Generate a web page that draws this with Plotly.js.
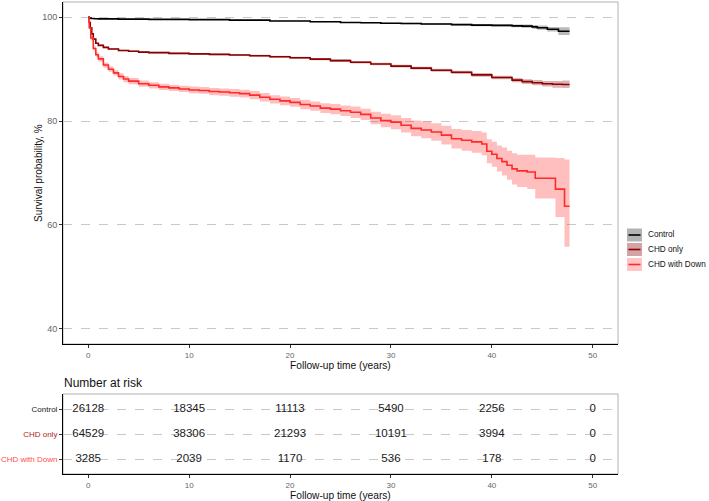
<!DOCTYPE html>
<html>
<head>
<meta charset="utf-8">
<script src="https://cdn.plot.ly/plotly-3.0.1.min.js"></script>
<style>html,body{margin:0;padding:0;background:#fff;}#chart{width:709px;height:501px;}</style>
</head>
<body>
<div id="chart"></div>
<script>
// ---- Data ----
const groups = ["Control", "CHD only", "CHD with Down"];

const tControl = [0, 0.1, 0.3, 0.6, 1, 3, 6, 10, 14, 18, 22, 25, 27, 29, 31, 33, 36, 38, 40, 42, 43, 44, 44.5, 45.5, 46.6, 47.7];
const sControl = [100, 99.85, 99.78, 99.72, 99.7, 99.65, 99.6, 99.55, 99.45, 99.3, 99.15, 99.0, 98.95, 98.85, 98.8, 98.7, 98.6, 98.5, 98.45, 98.35, 98.3, 98.15, 98.0, 97.7, 97.3, 97.3];
const loControl = [100, 99.8, 99.73, 99.67, 99.65, 99.6, 99.55, 99.5, 99.39, 99.23, 99.07, 98.9, 98.84, 98.73, 98.66, 98.55, 98.43, 98.3, 98.23, 98.1, 98.0, 97.8, 97.6, 97.25, 96.6, 96.6];
const hiControl = [100, 99.9, 99.83, 99.77, 99.75, 99.7, 99.65, 99.6, 99.51, 99.37, 99.23, 99.1, 99.06, 98.97, 98.94, 98.85, 98.77, 98.7, 98.67, 98.6, 98.6, 98.5, 98.4, 98.15, 98.1, 98.1];

const tCHD = [0, 0.1, 0.2, 0.35, 0.5, 0.75, 1, 1.5, 2, 3, 4, 5, 6, 8, 10, 12, 14, 16, 18, 20, 22, 24, 26, 28, 30, 32, 34, 36, 38, 40, 42, 43, 44, 45, 46, 47, 47.7];
const sCHD = [100, 99, 98, 96.8, 95.8, 95.0, 94.6, 94.2, 93.9, 93.6, 93.45, 93.3, 93.2, 93.05, 92.95, 92.85, 92.75, 92.6, 92.4, 92.2, 91.95, 91.65, 91.35, 91.0, 90.6, 90.2, 89.8, 89.4, 88.9, 88.4, 87.9, 87.6, 87.4, 87.2, 87.1, 87.05, 87.05];
const loCHD = [100, 98.9, 97.85, 96.65, 95.65, 94.85, 94.45, 94.05, 93.75, 93.45, 93.3, 93.15, 93.05, 92.9, 92.8, 92.68, 92.58, 92.42, 92.2, 91.98, 91.72, 91.4, 91.1, 90.75, 90.35, 89.93, 89.5, 89.08, 88.55, 88.05, 87.5, 87.15, 86.9, 86.65, 86.45, 86.38, 86.38];
const hiCHD = [100, 99.1, 98.15, 96.95, 95.95, 95.15, 94.75, 94.35, 94.05, 93.75, 93.6, 93.45, 93.35, 93.2, 93.1, 93.02, 92.92, 92.78, 92.6, 92.42, 92.18, 91.9, 91.6, 91.25, 90.85, 90.47, 90.1, 89.72, 89.25, 88.75, 88.3, 88.05, 87.9, 87.75, 87.75, 87.8, 87.8];

const tDown = [0, 0.1, 0.25, 0.5, 0.75, 1, 1.5, 2, 2.5, 3, 3.5, 4, 5, 6, 7, 8, 9, 10, 11, 12, 13, 14, 15, 16, 17, 18, 19, 20, 21, 22, 23, 24, 25, 26, 27, 28, 29, 30, 31, 32, 33, 34, 35, 36, 37, 38, 39, 39.5, 40, 40.5, 41, 41.5, 42, 42.5, 43.5, 44.3, 46.3, 47.2, 47.7];
const sDown = [100, 98, 96, 94, 92.8, 92, 90.8, 90, 89.3, 88.6, 88.1, 87.7, 87.2, 86.9, 86.6, 86.4, 86.2, 86.0, 85.9, 85.7, 85.6, 85.45, 85.3, 85.0, 84.6, 84.2, 83.9, 83.6, 83.2, 82.9, 82.5, 82.3, 82.0, 81.7, 81.3, 80.6, 80.1, 79.8, 79.2, 78.6, 78.3, 77.9, 77.3, 76.6, 76.3, 76.0, 75.6, 74.2, 73.6, 72.8, 72.2, 71.5, 70.8, 70.4, 70.2, 69.0, 66.9, 63.6, 63.6];
const loDown = [100, 97.7, 95.6, 93.6, 92.3, 91.5, 90.3, 89.5, 88.8, 88.0, 87.5, 87.1, 86.6, 86.3, 86.0, 85.8, 85.6, 85.35, 85.25, 85.0, 84.9, 84.7, 84.55, 84.2, 83.8, 83.4, 83.05, 82.75, 82.3, 82.0, 81.55, 81.3, 81.0, 80.6, 80.2, 79.4, 78.8, 78.45, 77.8, 77.1, 76.7, 76.2, 75.5, 74.7, 74.3, 73.9, 73.4, 71.9, 71.2, 70.3, 69.5, 68.7, 67.8, 67.3, 66.9, 65.1, 61.5, 55.8, 55.8];
const hiDown = [100, 98.3, 96.4, 94.4, 93.3, 92.5, 91.3, 90.5, 89.8, 89.2, 88.7, 88.3, 87.8, 87.5, 87.2, 87.0, 86.8, 86.65, 86.55, 86.4, 86.3, 86.2, 86.05, 85.8, 85.4, 85.0, 84.75, 84.45, 84.1, 83.8, 83.45, 83.3, 83.0, 82.8, 82.4, 81.8, 81.4, 81.15, 80.6, 80.1, 79.9, 79.6, 79.1, 78.5, 78.3, 78.1, 77.8, 76.5, 76.0, 75.3, 74.9, 74.3, 73.8, 73.5, 73.5, 73.0, 72.9, 72.6, 72.6];

// Number at risk table
const riskTimes = [0, 10, 20, 30, 40, 50];
const riskControl = [26128, 18345, 11113, 5490, 2256, 0];
const riskCHD = [64529, 38306, 21293, 10191, 3994, 0];
const riskDown = [3285, 2039, 1170, 536, 178, 0];

const xTicks = [0, 10, 20, 30, 40, 50];
const yTicks = [40, 60, 80, 100];

// ---- Styling ----
const W = 709, H = 501;
const px = v => v / W;
const py = v => 1 - v / H;
const FONT = '"Liberation Sans", Arial, Helvetica, sans-serif';
const lineColors = ['#000000', '#8B0000', '#FF2A2A'];
const fillColors = ['rgba(128,128,128,0.55)', 'rgba(139,0,0,0.3)', 'rgba(255,0,0,0.25)'];
const keyFills = ['#b3b3b3', '#d4a3a3', '#ffc4c4'];
const labelColors = ['#222222', '#b22222', '#ff4d4d'];

const series = [
  {t: tControl, s: sControl, lo: loControl, hi: hiControl},
  {t: tCHD, s: sCHD, lo: loCHD, hi: hiCHD},
  {t: tDown, s: sDown, lo: loDown, hi: hiDown}
];

const traces = [];
series.forEach((d, i) => {
  traces.push({x: d.t, y: d.lo, type: 'scatter', mode: 'lines', line: {width: 0, shape: 'hv'},
    hoverinfo: 'skip', showlegend: false, xaxis: 'x', yaxis: 'y'});
  traces.push({x: d.t, y: d.hi, type: 'scatter', mode: 'lines', line: {width: 0, shape: 'hv'},
    fill: 'tonexty', fillcolor: fillColors[i], hoverinfo: 'skip', showlegend: false, xaxis: 'x', yaxis: 'y'});
});
series.forEach((d, i) => {
  traces.push({x: d.t, y: d.s, type: 'scatter', mode: 'lines', name: groups[i],
    line: {color: lineColors[i], width: 1.6, shape: 'hv'}, showlegend: false, xaxis: 'x', yaxis: 'y'});
});

const riskRows = [riskControl, riskCHD, riskDown];
riskRows.forEach((vals, i) => {
  traces.push({x: riskTimes, y: riskTimes.map(() => 2 - i), type: 'scatter', mode: 'text',
    text: vals.map(String), textposition: 'middle center',
    textfont: {family: FONT, size: 11.5, color: '#1a1a1a'},
    hoverinfo: 'skip', showlegend: false, xaxis: 'x2', yaxis: 'y2'});
});

const xDomain = [px(63), px(618)];
const tickFont = {family: FONT, size: 8, color: '#666666'};
const commonX = {
  domain: xDomain, range: [-2.5, 52.5], tickvals: xTicks, ticktext: xTicks.map(String),
  ticks: 'outside', ticklen: 3, tickcolor: '#333333', tickwidth: 1,
  showline: true, linecolor: '#000000', linewidth: 1, mirror: false,
  showgrid: false, zeroline: false, tickfont: tickFont, fixedrange: true
};

const shapes = [
  {type: 'rect', xref: 'paper', yref: 'paper', x0: px(63), x1: px(618), y0: py(344), y1: py(2),
    line: {color: '#b0b0b0', width: 1}, layer: 'below'},
  {type: 'rect', xref: 'paper', yref: 'paper', x0: px(63), x1: px(618), y0: py(474), y1: py(394),
    line: {color: '#b0b0b0', width: 1}, layer: 'below'}
];
const annotations = [
  {text: 'Survival probability, %', xref: 'paper', yref: 'paper', x: px(38), y: py(173),
    textangle: -90, showarrow: false, font: {family: FONT, size: 10, color: '#111'}, xanchor: 'center', yanchor: 'middle'},
  {text: 'Follow-up time (years)', xref: 'paper', yref: 'paper', x: px(340.5), y: py(365),
    showarrow: false, font: {family: FONT, size: 10.2, color: '#111'}, xanchor: 'center', yanchor: 'middle'},
  {text: 'Number at risk', xref: 'paper', yref: 'paper', x: px(62), y: py(382.5),
    showarrow: false, font: {family: FONT, size: 12, color: '#111'}, xanchor: 'left', yanchor: 'middle'},
  {text: 'Follow-up time (years)', xref: 'paper', yref: 'paper', x: px(340.5), y: py(495.5),
    showarrow: false, font: {family: FONT, size: 10.2, color: '#111'}, xanchor: 'center', yanchor: 'middle'}
];
// Legend (ggplot-style keys)
const keyCenters = [235, 249.5, 264.5];
groups.forEach((g, i) => {
  const c = keyCenters[i];
  shapes.push({type: 'rect', xref: 'paper', yref: 'paper', x0: px(627), x1: px(642), y0: py(c + 6.5), y1: py(c - 6.5),
    fillcolor: keyFills[i], line: {width: 0}});
  shapes.push({type: 'line', xref: 'paper', yref: 'paper', x0: px(628.5), x1: px(640.5), y0: py(c), y1: py(c),
    line: {color: lineColors[i], width: 1.6}});
  annotations.push({text: g, xref: 'paper', yref: 'paper', x: px(646), y: py(c), showarrow: false,
    xanchor: 'left', yanchor: 'middle', font: {family: FONT, size: 8.2, color: '#111'}});
});

const layout = {
  width: W, height: H,
  margin: {l: 0, r: 0, t: 0, b: 0, pad: 0},
  paper_bgcolor: '#ffffff', plot_bgcolor: 'rgba(0,0,0,0)',
  font: {family: FONT},
  showlegend: false,
  xaxis: Object.assign({}, commonX, {anchor: 'y'}),
  yaxis: {
    domain: [py(344), py(2)], range: [37.05, 102.95], tickvals: yTicks, ticktext: yTicks.map(String),
    ticks: 'outside', ticklen: 3, tickcolor: '#333333', showline: true, linecolor: '#000000', linewidth: 1,
    showgrid: true, gridcolor: '#c8c8c8', griddash: 'dash', gridwidth: 1, zeroline: false,
    tickfont: {family: FONT, size: 9, color: '#666666'}, anchor: 'x', fixedrange: true
  },
  xaxis2: Object.assign({}, commonX, {anchor: 'y2'}),
  yaxis2: {
    domain: [py(474), py(394)], range: [-0.6, 2.6], tickvals: [2, 1, 0],
    ticktext: groups.map((g, i) => '<span style="color:' + labelColors[i] + '">' + g + '</span>'),
    ticks: 'outside', ticklen: 3, tickcolor: '#333333', showline: true, linecolor: '#000000', linewidth: 1,
    showgrid: true, gridcolor: '#c8c8c8', griddash: 'dash', gridwidth: 1, zeroline: false,
    tickfont: {family: FONT, size: 8, color: '#222'}, anchor: 'x2', fixedrange: true
  },
  shapes: shapes,
  annotations: annotations
};

Plotly.newPlot('chart', traces, layout, {displayModeBar: false, staticPlot: true});
</script>
</body>
</html>
